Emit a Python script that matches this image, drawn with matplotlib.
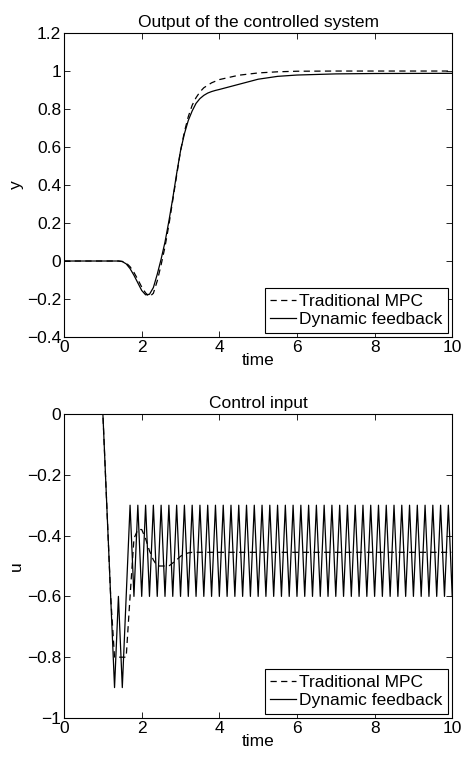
import matplotlib.pyplot as plt

plt.rcParams['font.family'] = ['Liberation Sans', 'DejaVu Sans']

# Output of the controlled system
t_y_mpc = [0, 1.4, 1.5, 1.6, 1.7, 1.8, 1.9, 2.0, 2.1, 2.2, 2.3, 2.4, 2.5, 2.6, 2.7,
           2.8, 2.9, 3.0, 3.1, 3.2, 3.3, 3.4, 3.5, 3.6, 3.8, 4.0, 4.5, 5.0, 5.5,
           6.0, 7.0, 10.0]
y_mpc = [0, 0, -0.002, -0.01, -0.03, -0.06, -0.097, -0.137, -0.168, -0.188,
         -0.17, -0.105, -0.02, 0.075, 0.19, 0.32, 0.45, 0.58, 0.68, 0.76, 0.82,
         0.86, 0.89, 0.912, 0.938, 0.955, 0.978, 0.99, 0.996, 0.999, 1.0, 1.0]

t_y_dyn = [0, 1.4, 1.5, 1.6, 1.7, 1.8, 1.9, 2.0, 2.1, 2.2, 2.3, 2.4, 2.5, 2.6, 2.7,
           2.8, 2.9, 3.0, 3.1, 3.2, 3.3, 3.4, 3.5, 3.6, 3.7, 3.8, 3.9, 4.0, 4.5,
           5.0, 5.5, 6.0, 7.0, 8.0, 10.0]
y_dyn = [0, 0, -0.003, -0.015, -0.04, -0.075, -0.115, -0.155, -0.178, -0.175,
         -0.14, -0.07, 0.01, 0.1, 0.21, 0.33, 0.46, 0.58, 0.67, 0.74, 0.79, 0.83,
         0.855, 0.872, 0.884, 0.892, 0.898, 0.903, 0.93, 0.957, 0.972, 0.979,
         0.985, 0.987, 0.988]

# Control input
t_u = [round(0.1 * k, 1) for k in range(101)]
u_dyn = ([0.0] * 11 + [-0.3, -0.6, -0.9, -0.6, -0.9, -0.6]
         + [-0.3, -0.6] * 42)

t_u_mpc = [0, 1.0, 1.1, 1.2, 1.3, 1.4, 1.5, 1.6, 1.7, 1.8, 1.9, 2.0, 2.1, 2.2,
           2.3, 2.4, 2.5, 2.6, 2.7, 2.8, 2.9, 3.0, 3.1, 3.2, 3.3, 10.0]
u_mpc = [0, 0, -0.3, -0.6, -0.8, -0.8, -0.8, -0.8, -0.6, -0.41, -0.38, -0.38,
         -0.41, -0.45, -0.48, -0.5, -0.5, -0.5, -0.5, -0.49, -0.48, -0.468,
         -0.461, -0.457, -0.455, -0.455]

fig = plt.figure(figsize=(4.61, 7.58), dpi=100)
ax1 = fig.add_axes([0.139, 0.5554, 0.842, 0.401])
ax2 = fig.add_axes([0.139, 0.0528, 0.842, 0.401])

lw = 0.9
dash = (5, 3.5)
fs = 12.5

ax1.plot(t_y_mpc, y_mpc, color='black', lw=lw, linestyle=(0, dash), label='Traditional MPC')
ax1.plot(t_y_dyn, y_dyn, color='black', lw=lw, label='Dynamic feedback')
ax1.set_xlim(0, 10)
ax1.set_ylim(-0.4, 1.2)
ax1.set_xticks([0, 2, 4, 6, 8, 10])
ax1.set_yticks([-0.4, -0.2, 0, 0.2, 0.4, 0.6, 0.8, 1.0, 1.2])
ax1.set_yticklabels(['\u22120.4', '\u22120.2', '0', '0.2', '0.4', '0.6', '0.8', '1', '1.2'])
ax1.set_title('Output of the controlled system', fontsize=fs, pad=4)
ax1.set_ylabel('y', fontsize=fs, labelpad=2)
ax1.set_xlabel('time', fontsize=fs, labelpad=-1)

ax2.plot(t_u_mpc, u_mpc, color='black', lw=lw, linestyle=(0, dash), label='Traditional MPC')
ax2.plot(t_u, u_dyn, color='black', lw=lw, label='Dynamic feedback')
ax2.set_xlim(0, 10)
ax2.set_ylim(-1, 0)
ax2.set_xticks([0, 2, 4, 6, 8, 10])
ax2.set_yticks([-1, -0.8, -0.6, -0.4, -0.2, 0])
ax2.set_yticklabels(['\u22121', '\u22120.8', '\u22120.6', '\u22120.4', '\u22120.2', '0'])
ax2.set_title('Control input', fontsize=fs, pad=4)
ax2.set_ylabel('u', fontsize=fs, labelpad=2)
ax2.set_xlabel('time', fontsize=fs, labelpad=-1)

for ax in (ax1, ax2):
    ax.tick_params(direction='in', top=True, right=True, labelsize=fs,
                   length=4, width=0.6, pad=2)
    for s in ax.spines.values():
        s.set_linewidth(0.8)
    leg = ax.legend(loc='lower right', fontsize=fs, handlelength=1.5,
                    handletextpad=0.2, borderpad=0.3, labelspacing=0.2,
                    borderaxespad=0.25, fancybox=False, framealpha=1)
    leg.get_frame().set_edgecolor('black')
    leg.get_frame().set_linewidth(0.8)

fig.savefig('out.png', dpi=100)
